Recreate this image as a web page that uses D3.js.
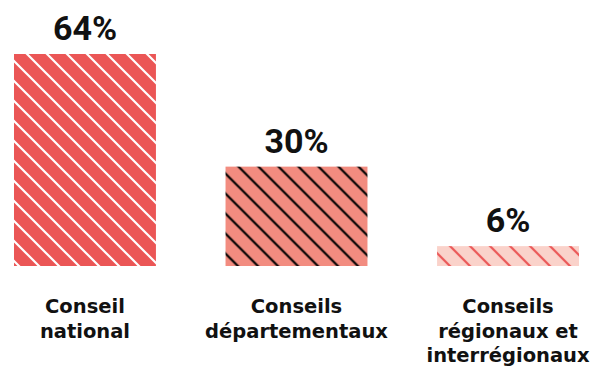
<!DOCTYPE html>
<html>
<head>
<meta charset="utf-8">
<script src="https://cdn.jsdelivr.net/npm/d3@7"></script>
<style>
  body { margin: 0; background: #fff; }
  svg { display: block; font-family: Inter, "Noto Sans", sans-serif; }
</style>
</head>
<body>
<div id="chart"></div>
<script>
// data
var categories = ["Conseil national", "Conseils départementaux", "Conseils régionaux et interrégionaux"];
var labelLines = [["Conseil", "national"], ["Conseils", "départementaux"], ["Conseils", "régionaux et", "interrégionaux"]];
var values = [64, 30, 6];
var fills = ["#eb5656", "#f28c80", "#fad2ca"];
var hatch = ["#ffffff", "#000000", "#eb5656"];

var width = 603, height = 372;

var svg = d3.select("#chart").append("svg")
    .attr("width", width)
    .attr("height", height);

var x = d3.scaleBand()
    .domain(categories)
    .range([14, 579])
    .paddingInner(0.329)
    .paddingOuter(0);

var y = d3.scaleLinear()
    .domain([0, 64])
    .range([266, 54]);

var defs = svg.append("defs");

// one hatch pattern per bar, anchored at the bar's top-left corner
categories.forEach(function (c, i) {
    var p = defs.append("pattern")
        .attr("id", "hatch" + i)
        .attr("patternUnits", "userSpaceOnUse")
        .attr("x", x(c) + 13)
        .attr("y", y(values[i]))
        .attr("width", 20)
        .attr("height", 20);
    p.append("rect").attr("width", 20).attr("height", 20).attr("fill", fills[i]);
    p.append("path")
        .attr("d", "M-2,-2 L22,22 M-2,18 L2,22 M18,-2 L22,2")
        .attr("stroke", hatch[i])
        .attr("stroke-width", 2.2);
});

svg.selectAll("rect.bar")
    .data(categories)
    .join("rect")
    .attr("class", "bar")
    .attr("x", function (d) { return x(d); })
    .attr("y", function (d, i) { return y(values[i]); })
    .attr("width", x.bandwidth())
    .attr("height", function (d, i) { return y(0) - y(values[i]); })
    .attr("fill", function (d, i) { return "url(#hatch" + i + ")"; });

svg.selectAll("text.value")
    .data(categories)
    .join("text")
    .attr("class", "value")
    .attr("x", function (d) { return x(d) + x.bandwidth() / 2; })
    .attr("y", function (d, i) { return y(values[i]) - 14; })
    .attr("text-anchor", "middle")
    .attr("font-family", "Roboto, sans-serif")
    .attr("font-size", 34)
    .attr("font-weight", 700)
    .attr("fill", "#111")
    .text(function (d, i) { return values[i] + "%"; });

var labels = svg.selectAll("text.cat")
    .data(categories)
    .join("text")
    .attr("class", "cat")
    .attr("x", function (d) { return x(d) + x.bandwidth() / 2; })
    .attr("y", 313)
    .attr("text-anchor", "middle")
    .attr("font-family", "'DejaVu Sans', sans-serif")
    .attr("font-size", 19.5)
    .attr("font-weight", 700)
    .attr("fill", "#111");

labels.selectAll("tspan")
    .data(function (d, i) { return labelLines[i]; })
    .join("tspan")
    .attr("x", function () { return d3.select(this.parentNode).attr("x"); })
    .attr("dy", function (d, i) { return i === 0 ? 0 : 24.5; })
    .text(function (d) { return d; });
</script>
</body>
</html>
